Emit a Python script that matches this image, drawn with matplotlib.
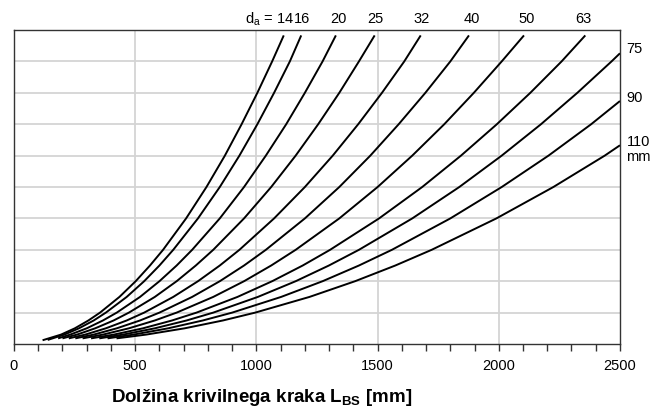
import matplotlib
matplotlib.use("Agg")
import matplotlib.pyplot as plt

plt.rcParams['font.family'] = ['Liberation Sans', 'DejaVu Sans']
plt.rcParams['mathtext.fontset'] = 'custom'
plt.rcParams['mathtext.rm'] = 'Liberation Sans'
plt.rcParams['mathtext.bf'] = 'Liberation Sans:bold'

# premer cevi d_a [mm]
premeri = [14, 16, 20, 25, 32, 40, 50, 63, 75, 90, 110]

# nivoji na y osi (mreza brez oznak), x = odcitane dolzine L_BS [mm]
y_nivoji = [0.3, 0.5, 0.75, 1, 1.5, 2, 2.5, 3, 4, 5, 6, 7, 8, 9]

x_14 = [194, 251, 307, 355, 435, 502, 561, 615, 710, 794, 870, 939, 1004, 1065]
x_16 = [208, 268, 329, 379, 465, 537, 600, 657, 759, 849, 930, 1004, 1073, 1138]
x_20 = [232, 300, 367, 424, 520, 600, 671, 735, 849, 949, 1039, 1123, 1200, 1273]
x_25 = [260, 335, 411, 474, 581, 671, 750, 822, 949, 1061, 1162, 1255, 1342, 1423]
x_32 = [294, 379, 465, 537, 657, 759, 849, 930, 1073, 1200, 1315, 1420, 1518, 1610]
x_40 = [329, 424, 520, 600, 735, 849, 949, 1039, 1200, 1342, 1470, 1587, 1697, 1800]
x_50 = [367, 474, 581, 671, 822, 949, 1061, 1162, 1342, 1500, 1643, 1775, 1897, 2012]
x_63 = [412, 532, 652, 753, 922, 1065, 1191, 1304, 1506, 1684, 1844, 1992, 2130, 2259]
x_75 = [450, 581, 712, 822, 1006, 1162, 1299, 1423, 1643, 1837, 2012, 2174, 2324, 2465]
x_90 = [493, 636, 779, 900, 1102, 1273, 1423, 1559, 1800, 2012, 2205, 2381]
x_110 = [545, 704, 862, 995, 1219, 1407, 1573, 1723, 1990, 2225, 2437]

# zacetne in koncne tocke krivulj
zacetek_x = [118, 139, 182, 200, 226, 253, 283, 318, 352, 386, 423]
zacetek_y = [0.12, 0.13, 0.18, 0.18, 0.18, 0.18, 0.18, 0.18, 0.18, 0.18, 0.18]
konec_x = [1113, 1185, 1328, 1488, 1678, 1877, 2104, 2357, 2500, 2500, 2500]
konec_y = [9.83, 9.83, 9.83, 9.83, 9.83, 9.83, 9.83, 9.83, 9.26, 7.74, 6.33]

# oznake zgoraj (x polozaj sredine) in desno (y polozaj)
oznake_zgoraj = ['16', '20', '25', '32', '40', '50', '63']
oznake_zgoraj_x = [1190, 1340, 1493, 1682, 1888, 2115, 2350]
oznake_desno = ['75', '90', '110', 'mm']
oznake_desno_y = [9.39, 7.83, 6.44, 5.96]

vse_x = [x_14, x_16, x_20, x_25, x_32, x_40, x_50, x_63, x_75, x_90, x_110]

fig = plt.figure(figsize=(6.53, 4.12), dpi=100)
ax = fig.add_axes([0.0214, 0.165, 0.928, 0.762])

#mreza
for yy in range(1, 10):
    ax.axhline(yy, color='#d4d4d4', lw=1.3, zorder=1)
for xx in [500, 1000, 1500, 2000]:
    ax.axvline(xx, color='#d4d4d4', lw=1.3, zorder=1)

#krivulje
for i in range(len(premeri)):
    xs = [zacetek_x[i]] + vse_x[i] + [konec_x[i]]
    ys = [zacetek_y[i]] + y_nivoji[:len(vse_x[i])] + [konec_y[i]]
    ax.plot(xs, ys, color='black', lw=1.4, zorder=3, solid_capstyle='butt',
            solid_joinstyle='round')

ax.set_xlim(0, 2500)
ax.set_ylim(0, 10)
ax.set_yticks([])
ax.set_xticks(range(0, 2501, 500))
ax.set_xticks(range(0, 2501, 100), minor=True)
ax.tick_params(axis='x', which='both', direction='out', length=5, width=1,
               color='#333333', labelsize=10.5, pad=6)
for s in ax.spines.values():
    s.set_color('#333333')
    s.set_linewidth(1.0)

#oznake premerov
xt = ax.get_xaxis_transform()
ax.text(1157, 1.035, r'd$_{\rm a}$ = 14', transform=xt, ha='right', va='center',
        fontsize=10.5)
for s, x in zip(oznake_zgoraj, oznake_zgoraj_x):
    ax.text(x, 1.035, s, transform=xt, ha='center', va='center', fontsize=10.5)
for s, y in zip(oznake_desno, oznake_desno_y):
    ax.text(2527, y, s, ha='left', va='center', fontsize=10.5, clip_on=False)

fig.text(0.40, 0.036, r'Dolžina krivilnega kraka L$_{\mathbf{BS}}$ [mm]',
         ha='center', va='center', fontsize=13.5, fontweight='bold')

fig.savefig('out.png', dpi=100)
